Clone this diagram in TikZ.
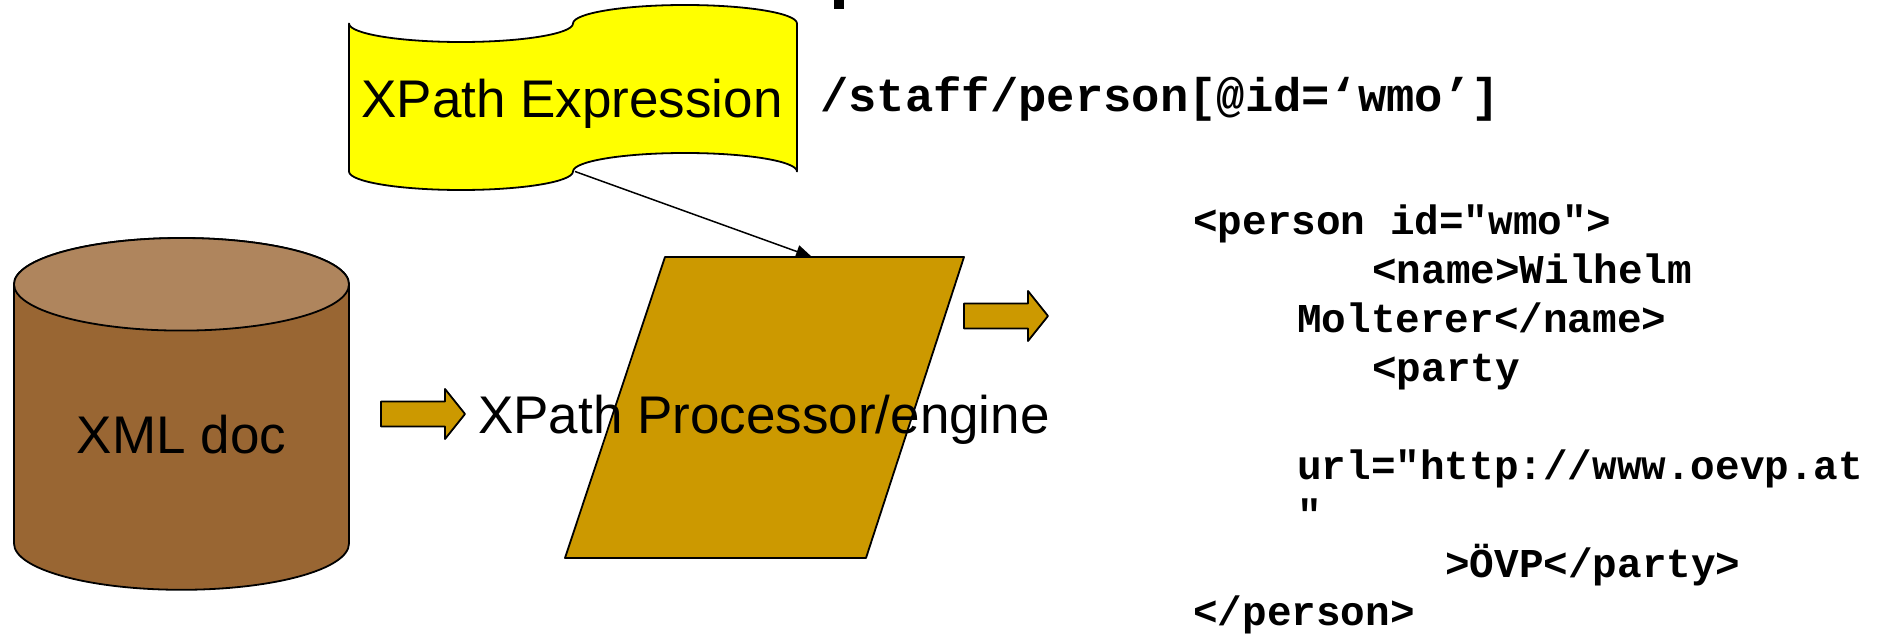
\documentclass[tikz,border=0pt]{standalone}
\usepackage{fontspec}
\setmainfont{Liberation Sans}
\newfontfamily\codefont{Liberation Mono}
\usetikzlibrary{arrows.meta}
\definecolor{cylbody}{RGB}{153,102,51}
\definecolor{cyltop}{RGB}{175,133,93}
\definecolor{procgold}{RGB}{204,153,0}
\definecolor{tapeyellow}{RGB}{255,255,0}
\begin{document}
\begin{tikzpicture}[x=1pt,y=1pt,
  outl/.style={draw=black,line width=1.8pt,line join=round},
  bigtxt/.style={font=\fontsize{53}{60}\selectfont,inner sep=0pt},
  pathtxt/.style={font=\codefont\bfseries\fontsize{47.2}{52}\selectfont,inner sep=0pt,anchor=base west},
  codetxt/.style={font=\codefont\bfseries\fontsize{41}{45}\selectfont,inner sep=0pt,anchor=base west}]
\useasboundingbox (0,0) rectangle (1885,635);

% cut-off glyph at the top
\fill[black] (834,626) rectangle (844,635);

% XML doc cylinder
\path[outl,fill=cylbody] (14,350.7) -- (14,91.5)
  arc[start angle=180,end angle=360,x radius=167.5pt,y radius=46.3pt]
  -- (349,350.7)
  arc[start angle=0,end angle=180,x radius=167.5pt,y radius=46.3pt] -- cycle;
\path[outl,fill=cyltop] (181.5,350.7) ellipse[x radius=167.5pt,y radius=46.3pt];
\node[bigtxt,anchor=base] (xmldoc) at (181.5,181) {XML doc};

% block arrow 1
\path[outl,fill=procgold] (381,233.5) -- (445,233.5) -- (445,246) -- (465,221)
  -- (445,196) -- (445,208.5) -- (381,208.5) -- cycle;

% processor parallelogram
\path[outl,fill=procgold] (665,378) -- (964,378) -- (866,77) -- (565,77) -- cycle;
\coordinate (procin) at (812,378);
\node[bigtxt,anchor=base west] (proc) at (478,201) {XPath Processor/engine};

% block arrow 2
\path[outl,fill=procgold] (964,331.5) -- (1028,331.5) -- (1028,344) -- (1048,319)
  -- (1028,294) -- (1028,306.5) -- (964,306.5) -- cycle;

% XPath expression (punched tape)
\path[outl,fill=tapeyellow] (349,611.5)
  arc[start angle=180,end angle=360,x radius=112pt,y radius=18.5pt]
  arc[start angle=180,end angle=0,x radius=112pt,y radius=18.5pt]
  -- (797,463.5)
  arc[start angle=0,end angle=180,x radius=112pt,y radius=18.5pt]
  arc[start angle=0,end angle=-180,x radius=112pt,y radius=18.5pt] -- cycle;
\coordinate (tapeout) at (575,463.5);
\node[bigtxt,anchor=base] (expr) at (572,517) {XPath Expression};

\draw[line width=1.5pt,-{Triangle[length=16pt,width=13pt]}] (tapeout) -- (procin);

% XPath text
\node[pathtxt] (xpath) at (820,523) {/staff/person[@id=‘wmo’]};

% result XML
\node[codetxt] (l1) at (1193,400) {<person id="wmo">};
\node[codetxt] (l2) at (1372,351.1) {<name>Wilhelm};
\node[codetxt] (l3) at (1297,302.2) {Molterer</name>};
\node[codetxt] (l4) at (1372,253.3) {<party};
\node[codetxt] (l5) at (1297,155.5) {url="http://www.oevp.at};
\node[codetxt] (l6) at (1297,106.6) {"};
\node[codetxt] (l7) at (1445,57.7) {>ÖVP</party>};
\node[codetxt] (l8) at (1193,9.5) {</person>};
\end{tikzpicture}
\end{document}
